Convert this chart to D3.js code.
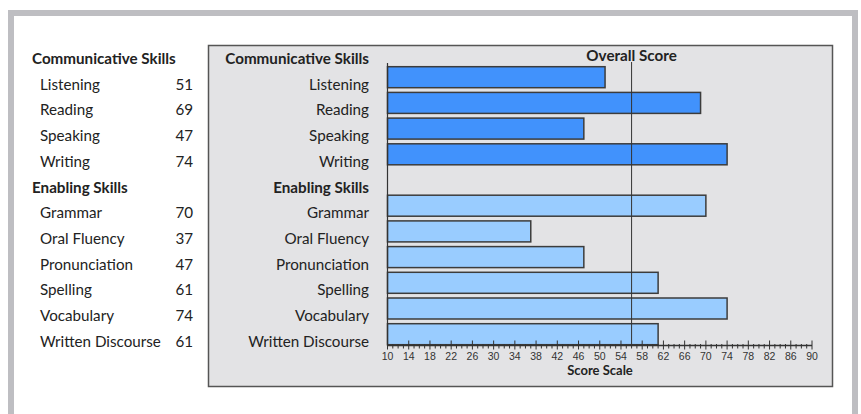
<!DOCTYPE html>
<html>
<head>
<style>
  body { margin: 0; background: #fff; }
  text { font-family: Lato, "Open Sans", sans-serif; fill: #222; }
</style>
</head>
<body>
<script src="https://d3js.org/d3.v7.min.js"></script>
<script>
// rows of the score report (headers have no score)
var rowLabels = ["Communicative Skills", "Listening", "Reading", "Speaking", "Writing",
                 "Enabling Skills", "Grammar", "Oral Fluency", "Pronunciation", "Spelling", "Vocabulary", "Written Discourse"];
var rowKinds = ["head", "comm", "comm", "comm", "comm", "head", "enab", "enab", "enab", "enab", "enab", "enab"];
var scores = [null, 51, 69, 47, 74, null, 70, 37, 47, 61, 74, 61];
var overallScore = 56;
var tickValues = [10, 14, 18, 22, 26, 30, 34, 38, 42, 46, 50, 54, 58, 62, 66, 70, 74, 78, 82, 86, 90];

var W = 861, H = 414;
var svg = d3.select("body").append("svg").attr("width", W).attr("height", H);

// outer grey frame
svg.append("rect").attr("x", 11).attr("y", 13).attr("width", 844).attr("height", 420)
   .attr("fill", "#fff").attr("stroke", "#bebec2").attr("stroke-width", 6);

// chart box
svg.append("rect").attr("x", 208.5).attr("y", 45.5).attr("width", 624).attr("height", 341)
   .attr("fill", "#e3e3e5").attr("stroke", "#555").attr("stroke-width", 1.5);

var x = d3.scaleLinear().domain([10, 90]).range([387.5, 812]);
var y = d3.scaleBand().domain(d3.range(rowLabels.length)).range([36.3, 349.4]).padding(0.183);
var fs = 15.2;

var rows = rowLabels.map(function(l, i) { return { label: l, kind: rowKinds[i], score: scores[i], i: i }; });

function labelY(d) { return y(d.i) + y.bandwidth() / 2 + 12.5; }

// left table
var table = svg.append("g");
table.selectAll("text.lab").data(rows).enter().append("text")
  .attr("class", "lab")
  .attr("x", function(d) { return d.kind == "head" ? 32 : 40; })
  .attr("y", labelY)
  .attr("font-size", fs)
  .attr("font-weight", function(d) { return d.kind == "head" ? "bold" : "normal"; })
  .text(function(d) { return d.label; });
table.selectAll("text.val").data(rows.filter(function(d) { return d.score != null; })).enter().append("text")
  .attr("class", "val")
  .attr("x", 193).attr("text-anchor", "end")
  .attr("y", labelY)
  .attr("font-size", fs)
  .text(function(d) { return d.score; });

// chart labels
svg.selectAll("text.clab").data(rows).enter().append("text")
  .attr("class", "clab")
  .attr("x", 369).attr("text-anchor", "end")
  .attr("y", labelY)
  .attr("font-size", fs)
  .attr("font-weight", function(d) { return d.kind == "head" ? "bold" : "normal"; })
  .text(function(d) { return d.label; });

// bars
svg.selectAll("rect.bar").data(rows.filter(function(d) { return d.score != null; })).enter().append("rect")
  .attr("class", "bar")
  .attr("x", x(10))
  .attr("y", function(d) { return y(d.i); })
  .attr("width", function(d) { return x(d.score) - x(10); })
  .attr("height", y.bandwidth())
  .attr("fill", function(d) { return d.kind == "comm" ? "#4192fc" : "#99ccff"; })
  .attr("stroke", "#3c3c3c").attr("stroke-width", 1.5);

// x axis: minor ticks every 1, majors every 4
var axisY = 345.5;
var ax = svg.append("g");
ax.append("line").attr("x1", x(10)).attr("x2", x(90)).attr("y1", axisY).attr("y2", axisY)
  .attr("stroke", "#333").attr("stroke-width", 1.5);
ax.selectAll("line.minor").data(d3.range(10, 91)).enter().append("line")
  .attr("x1", function(d) { return x(d); }).attr("x2", function(d) { return x(d); })
  .attr("y1", function(d) { return (d - 10) % 4 == 0 ? axisY - 5 : axisY - 1.5; })
  .attr("y2", function(d) { return (d - 10) % 4 == 0 ? axisY + 4 : axisY + 3; })
  .attr("stroke", "#333").attr("stroke-width", 1);
ax.selectAll("text").data(tickValues).enter().append("text")
  .attr("x", function(d) { return x(d); }).attr("y", 360)
  .attr("text-anchor", "middle")
  .style("font-family", "'Liberation Sans', Arial, sans-serif")
  .attr("font-size", 10.5).style("fill", "#333")
  .text(function(d) { return d; });
svg.append("text").attr("x", 600).attr("y", 375).attr("text-anchor", "middle")
  .attr("font-size", 13).attr("font-weight", "bold").text("Score Scale");

// left axis line
svg.append("line").attr("x1", x(10)).attr("x2", x(10)).attr("y1", 63).attr("y2", axisY)
  .attr("stroke", "#333").attr("stroke-width", 1.2);

// overall score line
svg.append("line").attr("x1", x(overallScore)).attr("x2", x(overallScore)).attr("y1", 62).attr("y2", axisY)
  .attr("stroke", "#333").attr("stroke-width", 1);
svg.append("text").attr("x", x(overallScore)).attr("y", 61).attr("text-anchor", "middle")
  .attr("font-size", fs).attr("font-weight", "bold").text("Overall Score");
</script>
</body>
</html>
